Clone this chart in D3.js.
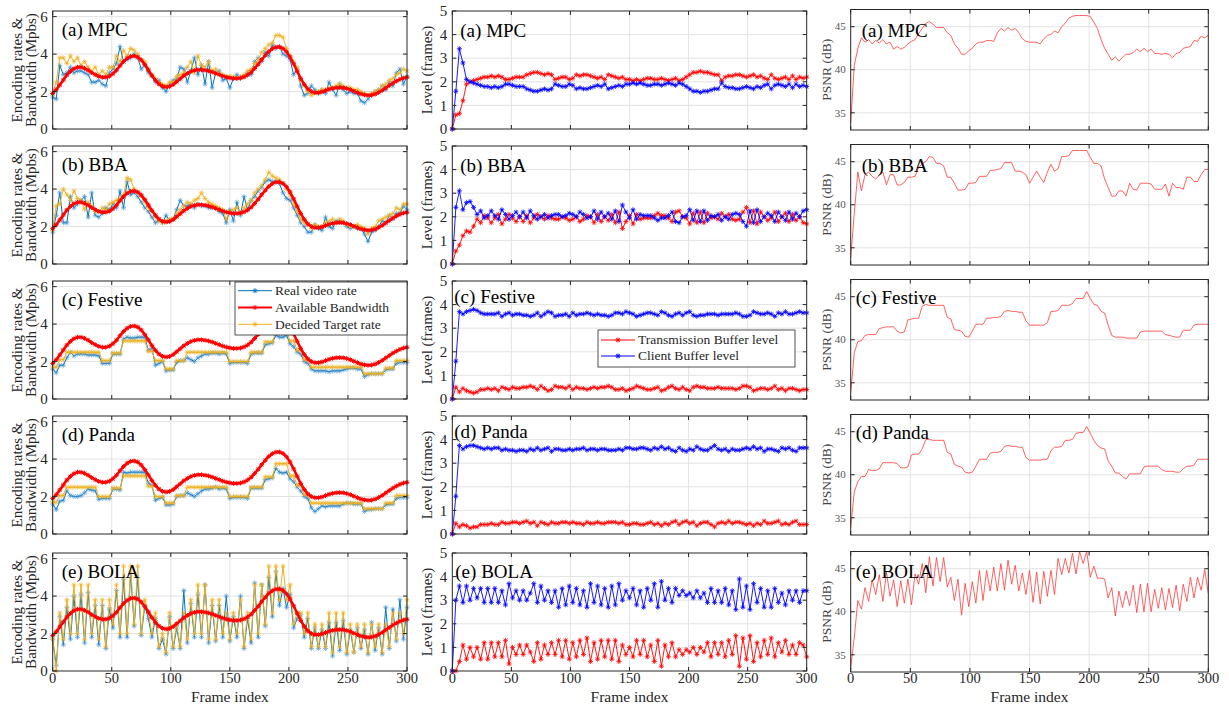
<!DOCTYPE html>
<html>
<head>
<meta charset="utf-8">
<script src="https://cdn.jsdelivr.net/npm/d3@7"></script>
<style>
  body { margin: 0; background: #fff; }
  text { font-family: "Liberation Serif", "DejaVu Serif", serif; }
</style>
</head>
<body>
<svg id="chart" width="1229" height="707"></svg>
<script>
// frame index of every sample (one reading every 3 frames)
const frames = d3.range(0, 301, 3);
const xTicks = [0, 50, 100, 150, 200, 250, 300];
const titles = ["(a) MPC", "(b) BBA", "(c) Festive", "(d) Panda", "(e) BOLA"];

// ---- column 1 : encoding rates & bandwidth (Mbps) ----
const bandwidth = [
  1.90,2.10,2.35,2.62,2.88,3.08,3.22,3.30,3.30,3.24,
  3.14,3.01,2.90,2.81,2.76,2.76,2.82,2.95,3.14,3.38,
  3.60,3.78,3.88,3.90,3.84,3.68,3.44,3.15,2.86,2.60,
  2.40,2.28,2.24,2.27,2.37,2.52,2.68,2.84,2.97,3.07,
  3.13,3.16,3.16,3.14,3.10,3.04,2.97,2.90,2.83,2.77,
  2.73,2.70,2.70,2.72,2.78,2.88,3.03,3.23,3.46,3.70,
  3.94,4.14,4.29,4.37,4.38,4.30,4.12,3.84,3.48,3.08,
  2.70,2.38,2.14,2.00,1.94,1.94,1.98,2.05,2.12,2.17,
  2.20,2.21,2.20,2.16,2.10,2.02,1.94,1.87,1.82,1.80,
  1.81,1.86,1.95,2.06,2.19,2.32,2.45,2.56,2.65,2.72,
  2.76];
const mpcTarget = [
  1.9,2.5,3.8,3.8,3.5,3.9,3.6,3.8,3.4,3.6,
  3.3,3.1,3.3,2.9,3.1,2.9,3.3,3.3,3.9,3.6,
  4.2,3.9,4.3,4.2,4.0,3.7,3.6,3.2,2.9,2.7,
  2.5,2.4,2.3,2.5,2.5,2.8,2.9,3.0,3.3,3.6,
  3.0,3.9,3.4,3.3,3.6,3.1,3.2,3.0,2.9,2.8,
  2.8,2.8,2.7,2.8,2.9,3.1,3.2,3.5,3.7,4.1,
  4.3,4.5,4.6,5.0,5.0,4.9,4.3,3.9,3.6,3.3,
  2.6,2.3,2.0,1.8,1.9,2.0,2.1,2.1,2.2,2.2,
  2.3,2.4,2.3,2.2,2.2,2.1,2.1,2.0,1.9,1.8,
  1.9,2.0,2.1,2.3,2.4,2.6,2.7,2.9,3.0,3.2,
  3.1];
const mpcReal = [
  1.7,1.6,3.4,2.9,3.0,3.3,3.0,3.1,3.1,3.0,
  2.9,2.5,2.5,2.6,2.4,2.3,3.0,3.2,3.5,4.4,
  3.6,3.7,3.8,4.0,3.8,3.2,3.4,3.0,2.8,2.5,
  2.6,2.2,2.0,2.4,2.6,2.7,3.3,3.2,2.5,3.1,
  3.8,2.9,3.4,2.4,3.6,2.2,3.0,3.1,2.6,2.7,
  2.2,2.7,2.9,2.7,2.8,3.0,2.9,3.6,3.8,3.6,
  4.1,3.9,4.5,4.3,4.4,4.0,3.9,3.7,2.9,3.2,
  2.3,1.8,1.9,2.3,2.1,1.9,2.1,1.9,2.5,2.1,
  1.8,2.4,2.1,1.9,2.0,1.9,1.9,1.5,1.4,1.6,
  1.8,2.0,2.1,2.3,2.1,2.5,2.3,3.0,3.2,2.4,
  2.8];
const bbaTarget = [
  1.8,3.1,3.2,4.0,3.7,3.4,3.9,3.5,3.4,2.9,
  3.3,3.1,2.8,2.8,3.0,2.9,3.2,3.3,3.4,3.5,
  3.7,4.6,4.5,4.0,3.8,3.6,3.3,3.0,2.8,2.5,
  2.3,2.2,2.3,2.4,2.4,2.7,2.9,3.1,3.3,3.2,
  3.4,3.5,3.8,3.5,3.3,3.2,3.1,3.0,2.9,2.4,
  2.8,2.9,3.0,2.7,3.0,3.2,3.4,3.8,4.0,4.2,
  4.5,4.9,4.7,4.6,4.5,4.3,4.0,3.7,3.2,2.8,
  2.4,2.2,2.1,1.9,2.1,2.0,2.0,2.2,2.3,2.4,
  2.2,2.4,2.3,2.1,2.0,2.0,2.1,2.0,1.9,1.6,
  1.9,2.0,2.3,2.4,2.5,2.6,2.7,3.0,2.9,3.2,
  3.2];
const bbaReal = [
  1.7,2.6,3.8,2.2,2.2,3.6,3.0,3.2,3.4,3.6,
  2.5,3.8,2.6,2.5,2.7,3.0,2.9,3.2,3.0,3.9,
  3.0,4.4,3.7,3.8,3.6,3.3,3.0,2.8,2.5,2.2,
  2.3,2.2,2.6,2.3,2.4,2.9,3.4,3.1,3.1,3.2,
  3.0,3.2,3.1,3.1,3.0,3.0,3.0,2.8,2.7,2.2,
  2.9,2.3,3.3,2.6,3.6,2.9,3.4,3.6,3.9,4.1,
  4.4,4.5,4.4,4.4,4.3,3.8,3.5,3.4,3.0,2.6,
  2.2,2.0,1.7,1.7,2.1,1.9,1.8,2.5,2.0,1.9,
  2.3,2.3,2.2,2.0,1.9,2.0,1.9,1.9,1.6,1.2,
  1.7,1.8,2.0,2.3,2.2,2.6,2.4,2.7,2.7,3.1,
  2.9];
const festiveTarget = [
  1.7,1.7,2.1,2.1,2.5,2.5,2.5,2.5,2.5,2.5,
  2.5,2.5,2.5,2.5,2.05,2.05,2.05,2.45,2.45,2.45,
  3.1,3.1,3.1,3.1,3.1,3.1,3.1,2.55,2.55,2.05,
  2.05,2.05,1.6,1.6,1.6,2.05,2.05,2.05,2.5,2.5,
  2.5,2.5,2.5,2.5,2.5,2.5,2.5,2.5,2.5,2.5,
  2.0,2.0,2.0,2.0,2.0,2.0,2.5,2.5,2.5,2.5,
  3.05,3.05,3.05,3.6,3.6,3.6,3.6,3.1,3.1,2.6,
  2.6,2.1,2.1,1.7,1.7,1.7,1.7,1.7,1.7,1.7,
  1.7,1.7,1.7,1.7,1.7,1.7,1.7,1.7,1.35,1.35,
  1.35,1.35,1.35,1.35,1.65,1.65,1.65,2.05,2.05,2.05,
  2.05];
const festiveReal = [
  1.6,1.4,1.8,1.8,2.2,2.5,2.3,2.4,2.4,2.4,
  2.35,2.35,2.35,2.3,1.9,1.9,1.9,2.4,2.4,2.4,
  3.2,3.3,3.25,3.25,3.3,3.3,3.3,2.6,2.7,1.8,
  1.9,2.0,1.5,1.55,1.55,1.95,2.05,2.05,2.2,2.1,
  2.0,2.2,2.3,2.4,2.4,2.45,2.45,2.4,2.45,2.4,
  1.9,1.95,1.95,1.95,1.95,1.9,2.4,2.45,2.45,2.45,
  2.9,2.95,3.0,3.4,3.3,3.3,3.4,2.95,2.8,2.5,
  2.4,2.0,1.9,1.6,1.5,1.5,1.5,1.5,1.45,1.5,
  1.5,1.5,1.55,1.6,1.65,1.65,1.6,1.6,1.2,1.3,
  1.35,1.35,1.35,1.35,1.55,1.6,1.6,1.9,1.95,1.95,
  1.95];
const pandaTarget = [
  1.7,1.7,2.05,2.05,2.5,2.5,2.5,2.5,2.5,2.5,
  2.5,2.5,2.5,2.0,2.0,2.0,2.0,2.45,2.45,2.45,
  3.1,3.1,3.1,3.1,3.1,3.1,3.1,2.55,2.55,2.0,
  2.0,2.0,1.65,1.65,1.65,2.05,2.05,2.05,2.5,2.5,
  2.5,2.5,2.5,2.5,2.5,2.5,2.5,2.5,2.5,2.5,
  2.0,2.0,2.0,2.0,2.0,2.0,2.5,2.5,2.5,2.5,
  3.05,3.05,3.05,3.75,3.75,3.75,3.75,3.1,3.1,2.6,
  2.6,2.1,2.1,1.65,1.65,1.65,1.65,1.65,1.65,1.65,
  1.65,1.65,1.65,1.65,1.65,1.65,1.65,1.65,1.35,1.35,
  1.35,1.35,1.35,1.35,1.65,1.65,1.65,2.05,2.05,2.05,
  2.05];
const pandaReal = [
  1.6,1.3,1.75,1.8,2.3,2.05,2.0,2.0,2.05,2.2,
  2.4,2.35,2.3,1.85,1.9,1.9,1.9,2.4,2.4,2.35,
  3.3,3.25,3.3,3.3,3.3,3.3,3.3,2.7,2.6,1.8,
  1.9,1.95,1.55,1.55,1.6,2.0,2.05,2.05,2.2,2.1,
  2.0,2.15,2.3,2.4,2.4,2.45,2.5,2.4,2.45,2.4,
  1.9,1.95,1.95,1.95,1.95,1.9,2.45,2.45,2.45,2.45,
  2.9,2.95,3.0,3.5,3.3,3.25,3.3,2.95,2.8,2.5,
  2.3,2.0,1.9,1.4,1.2,1.35,1.5,1.45,1.5,1.5,
  1.5,1.5,1.6,1.65,1.65,1.6,1.6,1.6,1.2,1.3,
  1.3,1.35,1.35,1.35,1.55,1.6,1.6,1.9,1.95,1.95,
  1.95];
const bolaTarget = [
  1.7,0.0,3.1,1.7,3.8,2.0,4.6,2.0,4.6,1.7,
  4.6,2.0,3.8,1.7,3.8,1.3,3.8,2.5,4.6,2.0,
  5.6,2.0,5.6,2.5,5.6,2.0,3.8,3.1,2.0,3.1,
  1.3,2.0,1.0,3.1,1.3,2.5,1.3,3.1,1.7,3.8,
  2.0,4.6,2.0,4.6,1.7,3.8,1.7,3.8,2.0,3.1,
  1.7,3.1,2.0,3.8,1.3,3.1,1.7,4.6,2.0,4.6,
  2.5,5.6,3.1,5.6,3.8,5.6,3.8,4.6,2.5,3.1,
  3.1,2.0,3.1,1.3,2.5,1.3,2.5,1.3,3.1,1.0,
  3.1,1.3,3.1,1.0,2.5,1.0,2.5,1.3,2.5,1.0,
  2.5,1.3,2.5,1.0,2.5,1.3,3.1,1.7,3.1,2.0,
  3.8];
const bolaReal = [
  1.7,0.3,2.9,1.4,3.4,1.7,4.0,1.8,4.1,1.5,
  4.2,1.8,3.5,1.4,3.5,1.2,3.3,2.3,4.3,1.8,
  4.9,1.8,5.2,2.4,5.0,1.9,3.5,2.8,1.8,2.8,
  1.2,1.7,0.9,2.9,1.2,2.3,1.2,4.3,1.5,3.6,
  1.8,4.1,1.8,4.6,1.5,3.5,1.6,3.5,1.8,4.0,
  1.6,2.9,1.8,4.0,1.2,2.8,1.5,4.7,1.8,4.6,
  2.4,5.0,2.9,5.3,3.5,4.4,3.4,4.1,2.3,2.8,
  3.0,1.8,2.8,1.2,2.3,1.2,2.2,1.2,2.6,0.8,
  2.6,1.1,2.7,0.9,2.2,1.0,2.3,1.2,2.2,0.9,
  2.6,1.1,2.3,0.9,3.4,1.2,3.3,1.6,3.8,1.7,
  3.4];

// ---- column 2 : buffer levels (frames) ----
const mpcTx = [
  0,0.6,0.65,1.2,1.9,2.0,2.05,2.1,2.15,2.2,
  2.2,2.25,2.2,2.25,2.2,2.1,2.1,2.15,2.2,2.2,
  2.2,2.3,2.35,2.4,2.4,2.35,2.3,2.35,2.3,2.1,
  2.15,2.2,2.2,2.1,2.15,2.3,2.25,2.3,2.3,2.25,
  2.2,2.15,2.2,2.1,2.3,2.25,2.2,2.15,2.2,2.1,
  2.1,2.05,2.1,2.05,2.1,2.15,2.15,2.1,2.1,2.15,
  2.1,2.05,2.1,2.15,2.05,2.1,2.2,2.3,2.4,2.4,
  2.45,2.4,2.4,2.35,2.3,2.3,2.05,2.2,2.25,2.25,
  2.3,2.3,2.25,2.2,2.25,2.3,2.2,2.25,2.15,2.1,
  2.3,2.15,2.1,2.15,2.2,2.1,2.25,2.1,2.2,2.15,
  2.2];
const mpcClient = [
  0,1.6,3.4,2.8,2.1,2.0,1.95,1.9,1.85,1.8,
  1.8,1.75,1.8,1.75,1.8,1.9,1.9,1.85,1.8,1.8,
  1.8,1.7,1.65,1.6,1.6,1.65,1.7,1.65,1.7,1.9,
  1.85,1.8,1.8,1.9,1.85,1.7,1.75,1.7,1.7,1.75,
  1.8,1.85,1.8,1.9,1.7,1.75,1.8,1.85,1.8,1.9,
  1.9,1.95,1.9,1.95,1.9,1.85,1.85,1.9,1.9,1.85,
  1.9,1.95,1.9,1.85,1.95,1.9,1.8,1.7,1.6,1.6,
  1.55,1.6,1.6,1.65,1.7,1.7,1.95,1.8,1.75,1.75,
  1.7,1.7,1.75,1.8,1.75,1.7,1.8,1.75,1.85,1.9,
  1.7,1.85,1.9,1.85,1.8,1.9,1.75,1.9,1.8,1.85,
  1.8];
const bbaTx = [
  0,0.55,0.8,1.2,1.4,1.35,1.6,1.9,1.75,2.05,
  1.95,1.75,1.95,2.1,1.7,1.9,2.1,1.95,1.8,2.0,
  1.8,2.05,1.75,1.95,2.1,2.0,1.9,2.05,1.95,1.9,
  1.9,2.0,1.95,1.85,1.9,2.0,1.8,1.9,2.05,2.0,
  1.75,2.1,1.8,2.0,1.85,2.1,1.75,2.2,1.5,1.8,
  2.05,1.7,2.1,1.9,1.95,1.95,1.95,2.05,2.15,2.05,
  2.05,1.95,1.8,2.2,2.25,2.0,1.95,1.7,2.15,1.75,
  2.2,1.75,2.15,1.95,2.0,1.9,2.15,2.0,2.1,1.9,
  1.85,1.9,2.2,2.4,1.75,2.25,1.7,2.2,2.0,1.85,
  1.95,2.2,1.8,2.0,2.15,1.8,2.1,1.85,2.0,1.75,
  1.7];
const bbaClient = [
  0,2.4,3.1,2.3,2.6,2.65,2.4,2.1,2.25,1.95,
  2.05,2.25,2.05,1.9,2.3,2.1,1.9,2.05,2.2,2.0,
  2.2,1.95,2.25,2.05,1.9,2.0,2.1,1.95,2.05,2.1,
  2.1,2.0,2.05,2.15,2.1,2.0,2.2,2.1,1.95,2.0,
  2.25,1.9,2.2,2.0,2.15,1.9,2.25,1.8,2.5,2.2,
  1.95,2.3,1.9,2.1,2.05,2.05,2.05,1.95,1.85,1.95,
  1.95,2.05,2.2,1.8,1.75,2.0,2.05,2.3,1.85,2.25,
  1.8,2.25,1.85,2.05,2.0,2.1,1.85,2.0,1.9,2.1,
  2.15,2.1,1.8,1.6,2.25,1.75,2.3,1.8,2.0,2.15,
  2.05,1.8,2.2,2.0,1.85,2.2,1.9,2.15,2.0,2.25,
  2.3];
const festiveTx = [
  0,0.5,0.3,0.45,0.35,0.3,0.25,0.3,0.4,0.4,
  0.45,0.4,0.45,0.35,0.5,0.45,0.4,0.5,0.45,0.45,
  0.5,0.5,0.55,0.5,0.4,0.55,0.45,0.35,0.4,0.55,
  0.5,0.5,0.45,0.55,0.4,0.5,0.45,0.45,0.4,0.45,
  0.5,0.45,0.5,0.5,0.55,0.5,0.4,0.4,0.45,0.35,
  0.4,0.45,0.55,0.5,0.45,0.4,0.4,0.45,0.5,0.35,
  0.4,0.5,0.55,0.45,0.4,0.5,0.4,0.35,0.5,0.55,
  0.5,0.5,0.45,0.45,0.45,0.5,0.45,0.45,0.45,0.45,
  0.4,0.45,0.55,0.55,0.5,0.35,0.4,0.45,0.45,0.4,
  0.45,0.55,0.4,0.45,0.35,0.45,0.45,0.4,0.35,0.4,
  0.4];
const festiveClient = [
  0,1.6,3.7,3.6,3.7,3.75,3.8,3.75,3.65,3.6,
  3.6,3.6,3.6,3.65,3.5,3.6,3.65,3.55,3.6,3.6,
  3.55,3.55,3.5,3.55,3.65,3.5,3.6,3.7,3.65,3.5,
  3.55,3.55,3.6,3.5,3.65,3.55,3.6,3.6,3.65,3.6,
  3.55,3.6,3.55,3.55,3.5,3.55,3.65,3.65,3.6,3.7,
  3.65,3.6,3.5,3.55,3.6,3.65,3.65,3.6,3.55,3.7,
  3.65,3.55,3.5,3.6,3.65,3.55,3.65,3.7,3.55,3.5,
  3.55,3.55,3.6,3.6,3.6,3.55,3.6,3.6,3.6,3.6,
  3.65,3.6,3.5,3.5,3.55,3.7,3.65,3.6,3.6,3.65,
  3.6,3.5,3.65,3.6,3.7,3.6,3.6,3.65,3.7,3.65,
  3.65];
const pandaTx = [
  0,0.45,0.3,0.4,0.35,0.25,0.3,0.3,0.4,0.4,
  0.4,0.45,0.4,0.4,0.5,0.45,0.45,0.5,0.5,0.45,
  0.5,0.55,0.45,0.5,0.35,0.5,0.45,0.4,0.5,0.45,
  0.45,0.5,0.5,0.45,0.5,0.45,0.45,0.4,0.5,0.45,
  0.45,0.5,0.45,0.45,0.5,0.5,0.5,0.45,0.5,0.4,
  0.4,0.45,0.45,0.4,0.4,0.45,0.5,0.4,0.45,0.35,
  0.45,0.4,0.5,0.55,0.4,0.5,0.55,0.45,0.5,0.35,
  0.45,0.5,0.5,0.4,0.3,0.45,0.5,0.45,0.55,0.45,
  0.5,0.5,0.45,0.4,0.45,0.35,0.45,0.4,0.55,0.45,
  0.45,0.5,0.55,0.4,0.45,0.4,0.5,0.55,0.4,0.4,
  0.4];
const pandaClient = [
  0,1.6,3.75,3.6,3.7,3.75,3.75,3.7,3.65,3.6,
  3.65,3.6,3.65,3.65,3.55,3.6,3.55,3.55,3.5,3.55,
  3.55,3.5,3.6,3.55,3.65,3.55,3.6,3.65,3.5,3.6,
  3.6,3.55,3.55,3.6,3.55,3.6,3.6,3.65,3.55,3.6,
  3.6,3.55,3.6,3.6,3.55,3.55,3.55,3.6,3.55,3.65,
  3.65,3.6,3.6,3.65,3.65,3.6,3.55,3.65,3.6,3.7,
  3.6,3.65,3.55,3.5,3.65,3.55,3.5,3.6,3.55,3.7,
  3.6,3.55,3.55,3.65,3.75,3.6,3.55,3.6,3.5,3.6,
  3.55,3.55,3.6,3.65,3.6,3.7,3.6,3.65,3.5,3.6,
  3.6,3.55,3.5,3.65,3.6,3.65,3.55,3.5,3.65,3.65,
  3.65];
const bolaTx = [
  0,0.0,0.4,1.1,0.5,1.0,0.6,1.0,0.5,1.2,
  0.5,1.2,0.6,1.2,0.6,1.3,0.3,1.0,0.7,1.1,
  0.7,1.1,0.8,0.4,1.2,0.5,1.1,0.7,1.2,0.7,
  1.3,0.6,1.3,0.5,1.2,0.6,1.3,0.7,1.4,0.4,
  1.2,0.5,1.3,0.6,1.3,0.5,1.3,0.4,1.1,0.7,
  1.0,0.6,1.3,0.7,1.3,0.6,1.1,0.4,1.3,0.2,
  1.1,0.6,1.2,0.6,0.9,0.7,0.9,0.8,1.0,0.7,
  1.0,0.8,1.2,0.6,1.2,0.7,1.2,0.6,1.3,0.7,
  1.5,0.2,1.4,0.5,1.5,0.4,1.2,0.6,1.3,0.7,
  1.4,0.6,1.2,0.8,1.3,0.7,1.1,0.7,1.2,1.1,
  0.6];
const bolaClient = [
  0,3.0,3.6,2.9,3.6,3.0,3.5,3.1,3.5,2.9,
  3.5,2.9,3.5,2.9,3.4,2.8,3.7,3.1,3.4,3.0,
  3.4,3.0,3.3,3.7,2.9,3.6,3.0,3.4,2.9,3.4,
  2.7,3.5,2.8,3.6,2.9,3.5,2.8,3.4,2.7,3.7,
  2.9,3.6,2.8,3.5,2.7,3.6,2.8,3.7,3.0,3.4,
  3.1,3.5,2.8,3.4,2.7,3.5,3.0,3.7,2.7,3.8,
  3.0,3.5,2.9,3.5,3.2,3.4,3.2,3.3,3.1,3.4,
  3.1,3.3,2.9,3.5,2.9,3.4,2.9,3.5,2.8,3.4,
  2.6,3.9,2.7,3.6,2.6,3.7,2.9,3.5,2.7,3.4,
  2.7,3.5,2.9,3.3,2.8,3.4,3.0,3.4,2.9,3.4,
  3.4];

// ---- column 3 : PSNR (dB) ----
const mpcPsnr = [
  33.8,40.5,42.5,43.7,43.2,43.5,43.0,43.4,43.1,43.5,
  43.0,43.2,42.4,42.7,42.4,42.6,43.0,43.3,43.5,44.2,
  44.8,45.4,45.6,45.3,44.9,44.9,44.9,44.3,44.0,43.0,
  42.5,41.8,41.8,42.2,42.5,43.0,43.2,43.2,43.4,43.4,
  43.3,44.3,44.8,44.5,44.9,44.6,44.8,44.3,43.6,43.3,
  43.2,43.2,43.2,43.0,43.6,44.0,44.1,44.5,44.3,45.0,
  45.4,46.0,46.2,46.3,46.3,46.3,46.3,46.2,45.5,44.8,
  43.5,42.5,41.8,41.1,41.5,41.0,41.4,41.8,41.8,42.0,
  42.4,42.1,42.5,42.1,42.4,41.9,41.9,41.8,41.9,41.8,
  41.4,41.9,42.0,42.5,42.6,42.7,43.4,43.3,43.9,43.7,
  44.0];
const bbaPsnr = [
  33.8,39.0,43.8,41.6,43.5,43.8,43.3,43.0,43.4,43.8,
  42.3,43.5,43.5,42.3,42.3,42.6,43.2,43.2,43.3,44.3,
  44.8,45.0,45.6,45.5,44.8,44.8,44.5,43.2,43.2,42.5,
  41.7,41.7,41.8,42.5,42.5,42.6,43.3,43.3,43.3,44.0,
  44.0,44.1,44.2,44.9,44.9,44.9,43.9,43.9,43.8,43.5,
  42.5,43.2,43.9,43.2,42.6,43.8,44.7,43.9,44.2,45.6,
  45.6,45.7,46.3,46.3,46.3,46.3,46.3,45.5,44.8,44.8,
  44.5,43.0,42.0,41.0,41.0,41.6,41.6,41.0,42.5,41.8,
  41.7,42.5,42.5,42.5,42.4,41.8,41.8,41.8,42.4,41.0,
  42.5,42.0,42.0,41.8,43.2,43.2,42.7,42.7,43.5,44.1,
  44.1];
const festivePsnr = [
  33.8,38.5,39.8,39.9,40.5,40.6,40.6,40.6,41.3,41.4,
  41.5,41.5,41.5,41.0,40.8,40.9,42.3,42.4,42.5,42.5,
  43.9,44.1,44.0,44.0,44.0,44.0,44.0,42.6,42.4,41.2,
  41.1,41.0,40.4,40.3,41.0,41.8,41.8,41.8,42.5,42.5,
  42.6,42.6,42.7,43.3,43.4,43.3,43.3,43.2,43.2,42.2,
  41.7,41.7,41.7,41.7,41.7,42.0,43.3,43.3,43.4,44.0,
  44.0,44.0,44.2,44.8,44.8,44.8,45.6,44.8,44.1,44.0,
  43.3,43.1,41.7,40.5,40.3,40.3,40.3,40.2,40.2,40.2,
  40.2,40.9,41.0,41.0,41.0,41.0,41.0,41.0,40.6,40.5,
  40.4,40.3,40.3,41.1,41.1,41.1,41.7,41.8,41.8,41.8,
  41.8];
const pandaPsnr = [
  33.8,38.0,39.2,39.8,39.8,40.6,40.5,40.5,40.7,41.4,
  41.4,41.4,41.4,41.3,40.8,40.8,40.9,42.3,42.4,42.4,
  43.0,44.1,44.1,44.0,44.0,44.0,44.0,42.6,42.4,41.2,
  41.0,40.9,40.3,40.2,40.3,41.0,41.8,41.8,41.8,42.5,
  42.6,42.6,42.7,43.3,43.4,43.3,43.3,43.2,43.2,42.0,
  41.7,41.7,41.7,41.7,41.8,41.8,42.8,43.2,43.2,43.3,
  44.0,44.0,44.1,44.8,44.9,44.9,45.6,44.8,44.0,43.4,
  43.1,43.0,41.6,41.0,40.2,40.2,39.8,39.5,40.1,40.1,
  40.1,40.1,40.9,41.0,41.0,41.0,41.0,40.6,40.4,40.4,
  40.4,40.3,40.3,40.7,41.0,41.0,41.1,41.8,41.8,41.8,
  41.8];
const bolaPsnr = [
  33.5,37.0,41.3,40.3,42.8,41.2,43.7,42.0,44.3,41.2,
  44.6,41.8,43.7,40.6,43.6,41.0,43.8,40.8,44.4,43.2,
  45.6,42.2,46.4,43.0,46.3,43.5,46.3,42.9,44.0,41.3,
  43.8,39.6,43.3,40.6,43.5,41.0,44.8,41.3,44.8,42.4,
  45.2,42.4,45.6,42.5,46.0,43.2,45.4,42.4,44.5,42.0,
  44.8,41.1,44.6,40.9,44.7,41.8,44.8,42.0,46.2,44.3,
  46.2,44.5,46.8,44.4,47.0,45.6,47.0,44.0,45.3,43.9,
  43.9,43.8,41.6,42.8,39.5,42.4,40.5,42.4,40.7,43.1,
  39.9,43.2,40.0,43.3,40.0,42.6,40.4,42.8,40.2,42.7,
  40.5,43.1,40.1,43.2,41.2,44.0,41.6,44.0,42.5,44.9,
  42.1];

// ---- layout ----
const width = 1229;
const height = 707;
const rowTops = [11, 146, 281, 416, 553];
const plotH = 118;
const cols = [
  { x0: 52.7, x1: 407, dy: 0, dh: 0 },
  { x0: 452.3, x1: 806.7, dy: 0, dh: 0 },
  { x0: 850.7, x1: 1208.3, dy: -1.5, dh: 2.5 }
];
const titleOffsets = [
  [[9, 25], [9, 25], [9, 25], [9, 25], [9, 25]],
  [[8, 26], [8, 26], [2, 22], [2, 22], [3, 25]],
  [[11, 27], [11, 27], [5, 24], [5, 24], [5, 26]]
];
const axisColor = "#262626";
const gridColor = "#e3e3e3";

const svg = d3.select("#chart");

function star(r){
    const a = r * 0.72;
    return `M${-r},0H${r}M0,${-r}V${r}M${-a},${-a}L${a},${a}M${-a},${a}L${a},${-a}`;
}

[bandwidth, mpcTarget, mpcReal, bbaTarget, bbaReal, festiveTarget, festiveReal, pandaTarget, pandaReal,
 bolaTarget, bolaReal, mpcTx, mpcClient, bbaTx, bbaClient, festiveTx, festiveClient, pandaTx, pandaClient,
 bolaTx, bolaClient, mpcPsnr, bbaPsnr, festivePsnr, pandaPsnr, bolaPsnr].forEach((a, i) => {
    if (a.length !== frames.length) console.error("series " + i + " has " + a.length + " values");
});

function draw_panel(col, row, yDomain, yTicks, seriesList, opts){
    const c = cols[col];
    const top = rowTops[row] + c.dy;
    const h = plotH + c.dh;
    const x = d3.scaleLinear().domain([0, 300]).range([c.x0, c.x1]);
    const y = d3.scaleLinear().domain(yDomain).range([top + h, top]);
    const g = svg.append("g");
    const clipId = "clip-" + col + "-" + row;

    g.append("clipPath").attr("id", clipId)
        .append("rect")
        .attr("x", c.x0).attr("y", top)
        .attr("width", c.x1 - c.x0).attr("height", h);

    // grid
    g.selectAll(".gx")
        .data(xTicks.slice(1, -1))
        .enter()
        .append("line")
        .attr("x1", d => x(d)).attr("x2", d => x(d))
        .attr("y1", top).attr("y2", top + h)
        .attr("stroke", gridColor).attr("stroke-width", 1);
    g.selectAll(".gy")
        .data(yTicks.filter(d => d > yDomain[0] && d < yDomain[1]))
        .enter()
        .append("line")
        .attr("x1", c.x0).attr("x2", c.x1)
        .attr("y1", d => y(d)).attr("y2", d => y(d))
        .attr("stroke", gridColor).attr("stroke-width", 1);

    // series
    const line = d3.line()
        .x((d, i) => x(frames[i]))
        .y(d => y(d));
    seriesList.forEach(s => {
        const sg = g.append("g");
        if (opts.clip) sg.attr("clip-path", "url(#" + clipId + ")");
        sg.append("path")
            .datum(s.values)
            .attr("d", line)
            .attr("fill", "none")
            .attr("stroke", s.color)
            .attr("stroke-width", s.width)
            .attr("stroke-opacity", s.opacity || 1)
            .attr("stroke-linejoin", "round");
        if (s.r > 0) {
            sg.selectAll("path.m")
                .data(s.values)
                .enter()
                .append("path")
                .attr("class", "m")
                .attr("transform", (d, i) => `translate(${x(frames[i])},${y(d)})`)
                .attr("d", star(s.r))
                .attr("fill", "none")
                .attr("stroke", s.markerColor || s.color)
                .attr("stroke-width", s.markerWidth || 0.8)
                .attr("stroke-opacity", s.markerOpacity || 1);
        }
    });

    // box
    g.append("rect")
        .attr("x", c.x0).attr("y", top)
        .attr("width", c.x1 - c.x0).attr("height", h)
        .attr("fill", "none")
        .attr("stroke", axisColor)
        .attr("stroke-width", 1);

    // inward ticks on all four sides
    const tl = 4;
    g.selectAll(".tx")
        .data(xTicks)
        .enter()
        .append("path")
        .attr("d", d => `M${x(d)},${top + h}v${-tl}M${x(d)},${top}v${tl}`)
        .attr("stroke", axisColor).attr("stroke-width", 1);
    g.selectAll(".ty")
        .data(yTicks)
        .enter()
        .append("path")
        .attr("d", d => `M${c.x0},${y(d)}h${tl}M${c.x1},${y(d)}h${-tl}`)
        .attr("stroke", axisColor).attr("stroke-width", 1);

    // y tick labels
    g.selectAll(".yl")
        .data(yTicks)
        .enter()
        .append("text")
        .attr("x", c.x0 - 5)
        .attr("y", d => y(d))
        .attr("dy", "0.34em")
        .attr("text-anchor", "end")
        .attr("font-size", opts.yTickSize)
        .attr("fill", opts.yTickColor)
        .text(d => d);

    // x tick labels, bottom row only
    if (row === 4) {
        g.selectAll(".xl")
            .data(xTicks)
            .enter()
            .append("text")
            .attr("x", d => x(d))
            .attr("y", 683)
            .attr("text-anchor", "middle")
            .attr("font-size", "14.5px")
            .attr("fill", axisColor)
            .text(d => d);
        g.append("text")
            .attr("x", (c.x0 + c.x1) / 2)
            .attr("y", 702)
            .attr("text-anchor", "middle")
            .attr("font-size", "15.5px")
            .attr("fill", axisColor)
            .text("Frame index");
    }

    // y label
    const cy = top + h / 2;
    opts.yLabel.forEach((lbl, k) => {
        g.append("text")
            .attr("transform", `translate(${opts.yLabelX[k]},${cy}) rotate(-90)`)
            .attr("text-anchor", "middle")
            .attr("font-size", opts.yLabelSize)
            .attr("fill", opts.yLabelColor || axisColor)
            .text(lbl);
    });

    // panel title
    const off = titleOffsets[col][row];
    g.append("text")
        .attr("x", c.x0 + off[0])
        .attr("y", top + off[1])
        .attr("font-size", "19px")
        .attr("fill", "#000")
        .text(titles[row]);

    return { x, y, top, g };
}

const blue = "#0072BD";
const orange = "#EDB120";

function rate_series(real, target){
    return [
        { values: real, color: blue, width: 1, r: 2.6, markerColor: "#3d8fd0", markerOpacity: 0.75 },
        { values: target, color: orange, width: 1, r: 2.6, markerOpacity: 0.8 },
        { values: bandwidth, color: "#ff0000", width: 2.6, r: 2.4, markerWidth: 1 }
    ];
}
function buffer_series(tx, client){
    return [
        { values: tx, color: "#ff0000", width: 0.9, r: 2.5 },
        { values: client, color: "#0000ff", width: 0.9, r: 2.5 }
    ];
}

const leftOpts = {
    yTickSize: "15px", yTickColor: axisColor,
    yLabel: ["Encoding rates &", "Bandwidth (Mpbs)"], yLabelX: [22, 36], yLabelSize: "15px"
};
const midOpts = {
    yTickSize: "15px", yTickColor: axisColor,
    yLabel: ["Level (frames)"], yLabelX: [432], yLabelSize: "15px"
};
const rightOpts = {
    yTickSize: "11px", yTickColor: "#555",
    yLabel: ["PSNR (dB)"], yLabelX: [831], yLabelSize: "13.5px", yLabelColor: "#444", clip: true
};

const rates = [[mpcReal, mpcTarget], [bbaReal, bbaTarget], [festiveReal, festiveTarget], [pandaReal, pandaTarget], [bolaReal, bolaTarget]];
const buffers = [[mpcTx, mpcClient], [bbaTx, bbaClient], [festiveTx, festiveClient], [pandaTx, pandaClient], [bolaTx, bolaClient]];
const psnrs = [mpcPsnr, bbaPsnr, festivePsnr, pandaPsnr, bolaPsnr];

let legendLeft;
let legendMid;
for (let r = 0; r < 5; r++) {
    const p1 = draw_panel(0, r, [0, 6.3], [0, 2, 4, 6], rate_series(rates[r][0], rates[r][1]), leftOpts);
    const p2 = draw_panel(1, r, [0, 5], [0, 1, 2, 3, 4, 5], buffer_series(buffers[r][0], buffers[r][1]), midOpts);
    draw_panel(2, r, [33, 47], [35, 40, 45],
        [{ values: psnrs[r], color: "#ff3030", width: 0.9, r: 0, opacity: 0.85 }], rightOpts);
    if (r === 2) { legendLeft = p1; legendMid = p2; }
}

// legends
function draw_legend(top, box, entries){
    const lg = svg.append("g");
    lg.append("rect")
        .attr("x", box.x).attr("y", top + box.dy)
        .attr("width", box.w).attr("height", box.h)
        .attr("fill", "#fff")
        .attr("stroke", axisColor)
        .attr("stroke-width", 0.8);
    entries.forEach((e, k) => {
        const ey = top + box.dy + box.first + k * box.step;
        lg.append("line")
            .attr("x1", box.x + 3).attr("x2", box.x + 37)
            .attr("y1", ey).attr("y2", ey)
            .attr("stroke", e.color).attr("stroke-width", e.width);
        lg.append("path")
            .attr("transform", `translate(${box.x + 20},${ey})`)
            .attr("d", star(2.6))
            .attr("fill", "none")
            .attr("stroke", e.color).attr("stroke-width", 0.9);
        lg.append("text")
            .attr("x", box.x + 40)
            .attr("y", ey)
            .attr("dy", "0.33em")
            .attr("font-size", "13.5px")
            .attr("fill", axisColor)
            .text(e.label);
    });
}

draw_legend(legendLeft.top, { x: 235, dy: 1, w: 172, h: 53, first: 8.7, step: 16.8 }, [
    { label: "Real video rate", color: blue, width: 1 },
    { label: "Available Bandwidth", color: "#ff0000", width: 2 },
    { label: "Decided Target rate", color: orange, width: 1 }
]);
draw_legend(legendMid.top, { x: 598, dy: 49, w: 197, h: 37, first: 10, step: 16 }, [
    { label: "Transmission Buffer level", color: "#ff0000", width: 1 },
    { label: "Client Buffer level", color: "#0000ff", width: 1 }
]);
</script>
</body>
</html>
